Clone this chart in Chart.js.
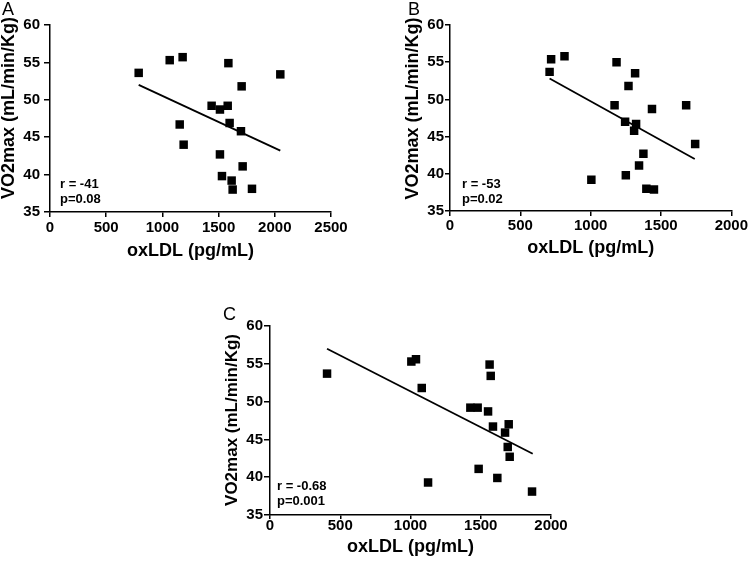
<!DOCTYPE html>
<html>
<head>
<meta charset="utf-8">
<script src="https://cdn.jsdelivr.net/npm/chart.js@4"></script>
<style>
  html, body { margin: 0; padding: 0; background: #fff; overflow: hidden; }
  body { width: 749px; height: 563px; position: relative; }
  canvas { position: absolute; }
</style>
</head>
<body>
<canvas id="chartA" width="370" height="262" style="left:0px;top:0px"></canvas>
<canvas id="chartB" width="349" height="261" style="left:400px;top:0px"></canvas>
<canvas id="chartC" width="360" height="263" style="left:220px;top:300px"></canvas>
<script>
'use strict';

// tick labels
const vo2Ticks = [35, 40, 45, 50, 55, 60];
const oxTicksA = [0, 500, 1000, 1500, 2000, 2500];
const oxTicksB = [0, 500, 1000, 1500, 2000];
const oxTicksC = [0, 500, 1000, 1500, 2000];

// panel A
const oxA  = [789, 1065, 1180, 1587, 2049, 1705, 1438, 1512, 1581, 1598, 1699, 1154, 1189, 1512, 1714, 1530, 1616, 1625, 1797];
const vo2A = [53.6, 55.3, 55.7, 54.9, 53.4, 51.8, 49.2, 48.7, 49.2, 46.9, 45.8, 46.7, 44.0, 42.7, 41.1, 39.8, 39.2, 38.0, 38.1];
const fitOxA  = [789, 2049];
const fitVo2A = [52.0, 43.2];
const statsA  = ['r = -41', 'p=0.08'];

// panel B
const oxB  = [708, 719, 814, 1184, 1316, 1269, 1170, 1436, 1679, 1245, 1323, 1309, 1743, 1375, 1344, 1005, 1250, 1396, 1450];
const vo2B = [53.7, 55.4, 55.8, 55.0, 53.5, 51.8, 49.2, 48.7, 49.2, 47.0, 46.7, 45.8, 44.0, 42.7, 41.1, 39.2, 39.8, 38.0, 37.9];
const fitOxB  = [708, 1740];
const fitVo2B = [52.8, 42.0];
const statsB  = ['r = -53', 'p=0.02'];

// panel C
const oxC  = [406, 1006, 1039, 1080, 1563, 1571, 1426, 1478, 1552, 1587, 1699, 1673, 1692, 1706, 1485, 1618, 1125, 1865];
const vo2C = [53.7, 55.3, 55.6, 51.8, 54.9, 53.4, 49.2, 49.2, 48.7, 46.7, 47.0, 45.9, 44.0, 42.7, 41.1, 39.9, 39.3, 38.1];
const fitOxC  = [406, 1870];
const fitVo2C = [57.0, 43.1];
const statsC  = ['r = -0.68', 'p=0.001'];

const FONT = "'Liberation Sans', Arial, Helvetica, sans-serif";
Chart.defaults.font.family = FONT;
Chart.defaults.color = '#000';

const toPoints = (xs, ys) => xs.map((x, i) => ({ x: x, y: ys[i] }));

// panel letter, r/p text and the rotated y title
const panelText = {
  id: 'panelText',
  afterDraw: (chart, args, opts) => {
    const ctx = chart.ctx;
    const area = chart.chartArea;
    ctx.save();
    ctx.fillStyle = '#000';
    ctx.textAlign = 'left';
    ctx.textBaseline = 'alphabetic';
    ctx.font = '18px ' + FONT;
    ctx.fillText(opts.letter, opts.letterX, opts.letterY);

    ctx.font = 'bold 13px ' + FONT;
    opts.stats.forEach((s, i) => {
      ctx.fillText(s, area.left + opts.statX, opts.statY + i * 15);
    });

    ctx.translate(opts.titleX, opts.titleY);
    ctx.rotate(-Math.PI / 2);
    ctx.font = 'bold ' + opts.titleSize + 'px ' + FONT;
    ctx.textAlign = 'center';
    ctx.textBaseline = 'middle';
    ctx.fillText('VO2max (mL/min/Kg)', 0, 0);
    ctx.restore();
  }
};

function makeChart(id, p) {
  const axisLine = { display: true, color: '#000', width: 1.5 };
  return new Chart(document.getElementById(id), {
    type: 'scatter',
    data: {
      datasets: [
        {
          data: toPoints(p.xs, p.ys),
          pointStyle: 'rect',
          pointRadius: 6,
          pointHoverRadius: 6,
          pointBorderWidth: 0,
          backgroundColor: '#000',
          borderColor: '#000'
        },
        {
          data: toPoints(p.fitX, p.fitY),
          showLine: true,
          pointRadius: 0,
          borderWidth: 1.8,
          borderColor: '#000'
        }
      ]
    },
    options: {
      responsive: false,
      animation: false,
      devicePixelRatio: 1,
      layout: { padding: { top: p.padTop, right: p.padRight, left: 0, bottom: 0 } },
      plugins: {
        legend: { display: false },
        tooltip: { enabled: false },
        panelText: p.text
      },
      scales: {
        x: {
          type: 'linear',
          min: p.xTicks[0],
          max: p.xTicks[p.xTicks.length - 1],
          afterBuildTicks: s => { s.ticks = p.xTicks.map(v => ({ value: v })); },
          afterFit: s => { s.height = p.xHeight; },
          border: axisLine,
          grid: { drawOnChartArea: false, drawTicks: true, tickLength: p.xTickLen, color: '#000', lineWidth: 1.5 },
          ticks: {
            padding: p.xTickPad,
            font: { size: 15, weight: 'bold' },
            color: '#000',
            maxRotation: 0,
            callback: v => String(v)
          },
          title: {
            display: true,
            text: 'oxLDL (pg/mL)',
            font: { size: 18, weight: 'bold' },
            color: '#000',
            padding: { top: 0, bottom: p.xTitlePad }
          }
        },
        y: {
          type: 'linear',
          min: vo2Ticks[0],
          max: vo2Ticks[vo2Ticks.length - 1],
          afterBuildTicks: s => { s.ticks = vo2Ticks.map(v => ({ value: v })); },
          afterFit: s => { s.width = 50; },
          border: axisLine,
          grid: { drawOnChartArea: false, drawTicks: true, tickLength: p.yTickLen, color: '#000', lineWidth: 1.5 },
          ticks: {
            padding: p.yTickPad,
            font: { size: 15, weight: 'bold' },
            color: '#000',
            callback: v => String(v)
          }
        }
      }
    },
    plugins: [panelText]
  });
}

makeChart('chartA', {
  xs: oxA, ys: vo2A, fitX: fitOxA, fitY: fitVo2A, xTicks: oxTicksA,
  padTop: 25, padRight: 39, xHeight: 50, xTickLen: 5, xTickPad: 2, xTitlePad: 0,
  yTickLen: 6, yTickPad: 4,
  text: { letter: 'A', letterX: 2, letterY: 15, stats: statsA, statX: 10, statY: 187.5,
          titleX: 9, titleY: 108, titleSize: 18 }
});

makeChart('chartB', {
  xs: oxB, ys: vo2B, fitX: fitOxB, fitY: fitVo2B, xTicks: oxTicksB,
  padTop: 25, padRight: 17, xHeight: 50, xTickLen: 5, xTickPad: 1, xTitlePad: 2,
  yTickLen: 5, yTickPad: 1,
  text: { letter: 'B', letterX: 8, letterY: 15, stats: statsB, statX: 12, statY: 187.5,
          titleX: 13, titleY: 108.5, titleSize: 18 }
});

makeChart('chartC', {
  xs: oxC, ys: vo2C, fitX: fitOxC, fitY: fitVo2C, xTicks: oxTicksC,
  padTop: 26, padRight: 29, xHeight: 48, xTickLen: 4, xTickPad: -2, xTitlePad: 5,
  yTickLen: 6, yTickPad: 1,
  text: { letter: 'C', letterX: 3, letterY: 20, stats: statsC, statX: 7, statY: 189.5,
          titleX: 12, titleY: 120, titleSize: 17 }
});
</script>
</body>
</html>
